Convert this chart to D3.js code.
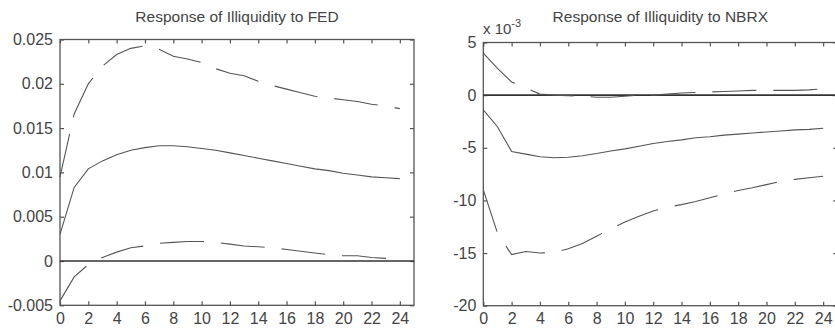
<!DOCTYPE html>
<html>
<head>
<meta charset="utf-8">
<script src="https://cdn.jsdelivr.net/npm/d3@7"></script>
<style>
  body { margin: 0; background: #fff; }
  svg { display: block; }
  text { font-family: "Liberation Sans", Arial, sans-serif; fill: #444; }
  .tick line { stroke: #555; stroke-width: 1.2; }
</style>
</head>
<body>
<svg id="chart" width="835" height="328"></svg>
<script>
// DATA: impulse responses, horizons 0..24
const horizons = d3.range(0, 25);

// Response of Illiquidity to FED
const fedResp = [0.0030, 0.0083, 0.0104, 0.0113, 0.0120, 0.0125, 0.0128, 0.0130, 0.0130, 0.0129,
  0.0127, 0.0125, 0.0122, 0.0119, 0.0116, 0.0113, 0.0110, 0.0107, 0.0104, 0.0102,
  0.0099, 0.0097, 0.0095, 0.0094, 0.0093];
const fedUpper = [0.0095, 0.0166, 0.0200, 0.0220, 0.0233, 0.0240, 0.0243, 0.0239, 0.0231, 0.0228,
  0.0224, 0.0217, 0.0212, 0.0209, 0.0203, 0.0198, 0.0194, 0.0190, 0.0186, 0.0184,
  0.0182, 0.0180, 0.0177, 0.0175, 0.0172];
const fedLower = [-0.0045, -0.0018, -0.0004, 0.0004, 0.0010, 0.0015, 0.0017, 0.0020, 0.0021, 0.0022,
  0.0022, 0.0021, 0.0019, 0.0017, 0.0016, 0.0015, 0.0013, 0.0011, 0.0009, 0.0007,
  0.0006, 0.0006, 0.0004, 0.0003, 0.0002];

// Response of Illiquidity to NBRX (x 10^-3)
const nbrxResp = [-1.4, -3.0, -5.35, -5.6, -5.85, -5.95, -5.9, -5.75, -5.55, -5.3,
  -5.1, -4.85, -4.6, -4.4, -4.25, -4.05, -3.95, -3.8, -3.7, -3.6,
  -3.5, -3.4, -3.3, -3.25, -3.15];
const nbrxUpper = [4.0, 2.55, 1.25, 0.7, 0.1, 0.0, -0.05, -0.1, -0.2, -0.2,
  -0.1, 0.0, 0.0, 0.1, 0.2, 0.25, 0.3, 0.35, 0.4, 0.45,
  0.45, 0.45, 0.45, 0.5, 0.6];
const nbrxLower = [-9.0, -13.1, -15.15, -14.85, -15.0, -14.95, -14.6, -14.1, -13.4, -12.7,
  -12.05, -11.5, -11.0, -10.65, -10.4, -10.1, -9.75, -9.4, -9.05, -8.8,
  -8.5, -8.2, -8.0, -7.85, -7.7];

const xTicks = d3.range(0, 25, 2);
const fedYTicks = [-0.005, 0, 0.005, 0.01, 0.015, 0.02, 0.025];
const fedYLabels = ["-0.005", "0", "0.005", "0.01", "0.015", "0.02", "0.025"];
const nbrxYTicks = [-20, -15, -10, -5, 0, 5];
const nbrxYLabels = ["-20", "-15", "-10", "-5", "0", "5"];

const svg = d3.select("#chart");

// one panel = frame + inward ticks + zero line + three curves
function drawPanel(opt) {
  const x = d3.scaleLinear().domain([0, 25]).range([opt.left, opt.right]);
  const y = d3.scaleLinear().domain(opt.yDomain).range([opt.bottom, opt.top]);
  const g = svg.append("g");

  // axes (inward ticks on all sides)
  g.append("g")
    .attr("transform", `translate(0,${opt.bottom})`)
    .call(d3.axisBottom(x).tickValues(xTicks).tickSize(-4).tickPadding(7))
    .call(a => a.selectAll("text").style("font-size", "16px"));
  g.append("g")
    .attr("transform", `translate(0,${opt.top})`)
    .call(d3.axisTop(x).tickValues(xTicks).tickSize(-4).tickFormat(""));
  g.append("g")
    .attr("transform", `translate(${opt.left},0)`)
    .call(d3.axisLeft(y).tickValues(opt.yTicks).tickSize(-4).tickPadding(7)
      .tickFormat((d, i) => opt.yLabels[i]))
    .call(a => a.selectAll("text").style("font-size", "16px"));
  g.append("g")
    .attr("transform", `translate(${opt.right},0)`)
    .call(d3.axisRight(y).tickValues(opt.yTicks).tickSize(-4).tickFormat(""));
  g.selectAll(".domain").remove();

  // frame
  g.append("rect")
    .attr("x", opt.left).attr("y", opt.top)
    .attr("width", opt.right - opt.left).attr("height", opt.bottom - opt.top)
    .attr("fill", "none").attr("stroke", "#555").attr("stroke-width", 1.3);

  // zero line
  g.append("line")
    .attr("x1", opt.left).attr("x2", opt.right)
    .attr("y1", y(0)).attr("y2", y(0))
    .attr("stroke", "#333").attr("stroke-width", 1.6);

  const line = d3.line().x((d, i) => x(horizons[i])).y(d => y(d));

  g.append("path").datum(opt.resp)
    .attr("d", line).attr("fill", "none")
    .attr("stroke", "#555").attr("stroke-width", 1.1);
  [opt.upper, opt.lower].forEach(s => {
    g.append("path").datum(s)
      .attr("d", line).attr("fill", "none")
      .attr("stroke", "#555").attr("stroke-width", 1.1)
      .attr("stroke-dasharray", "44,17");
  });

  // title
  g.append("text")
    .attr("x", (opt.left + opt.right) / 2)
    .attr("y", 21.5)
    .attr("text-anchor", "middle")
    .style("font-size", "15.5px")
    .text(opt.title);

  return g;
}

drawPanel({
  left: 60, right: 414, top: 39.5, bottom: 305.3,
  yDomain: [-0.005, 0.025], yTicks: fedYTicks, yLabels: fedYLabels,
  resp: fedResp, upper: fedUpper, lower: fedLower,
  title: "Response of Illiquidity to FED"
});

const right = drawPanel({
  left: 483.3, right: 837.3, top: 42.5, bottom: 305.7,
  yDomain: [-20, 5], yTicks: nbrxYTicks, yLabels: nbrxYLabels,
  resp: nbrxResp, upper: nbrxUpper, lower: nbrxLower,
  title: "Response of Illiquidity to NBRX"
});

// exponent label
const expo = right.append("text")
  .attr("x", 483)
  .attr("y", 34)
  .style("font-size", "15px");
expo.append("tspan").text("x 10");
expo.append("tspan").attr("dy", -7).style("font-size", "11px").text("-3");
</script>
</body>
</html>
